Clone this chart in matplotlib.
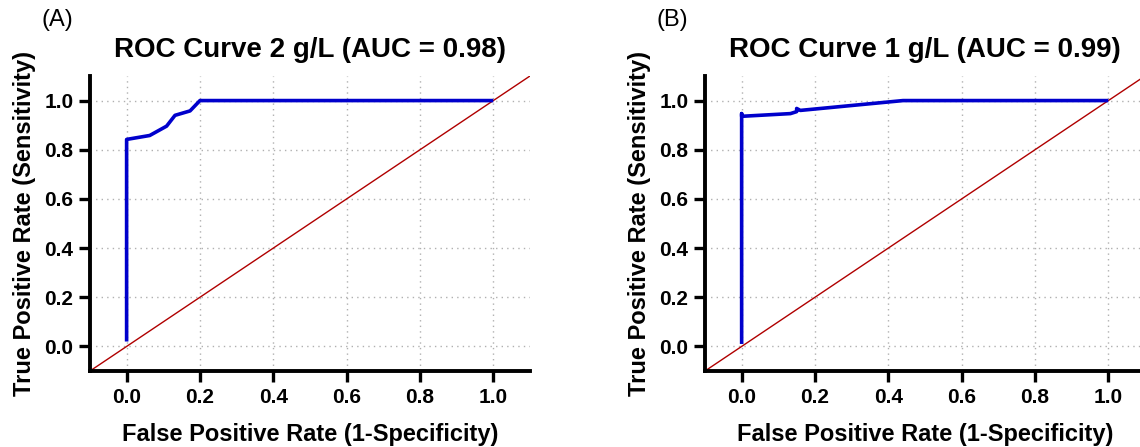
import matplotlib
matplotlib.use("Agg")
import matplotlib.pyplot as plt

plt.rcParams['font.family'] = ['Liberation Sans', 'DejaVu Sans']

# ROC points
fpr_2g = [0.0, 0.0, 0.063, 0.109, 0.132, 0.173, 0.20, 1.0]
tpr_2g = [0.02, 0.842, 0.858, 0.896, 0.940, 0.958, 1.0, 1.0]

fpr_1g = [0.0, 0.0, 0.0, 0.133, 0.15, 0.15, 0.16, 0.44, 1.0]
tpr_1g = [0.01, 0.947, 0.936, 0.947, 0.955, 0.968, 0.96, 1.0, 1.0]

diag = [-0.1, 1.1]
ticks = [0.0, 0.2, 0.4, 0.6, 0.8, 1.0]

titles = ["ROC Curve 2 g/L (AUC = 0.98)", "ROC Curve 1 g/L (AUC = 0.99)"]
panels = ["(A)", "(B)"]


def draw(ax, fpr, tpr, title, panel):
    ax.plot(diag, diag, color='#b00000', lw=1.0, zorder=2)
    ax.plot(fpr, tpr, color='#0000cc', lw=2.6, zorder=3, solid_capstyle='butt')
    ax.set_xlim(-0.1, 1.1)
    ax.set_ylim(-0.1, 1.1)
    ax.set_xticks(ticks)
    ax.set_yticks(ticks)
    ax.set_xticklabels([f"{t:.1f}" for t in ticks])
    ax.set_yticklabels([f"{t:.1f}" for t in ticks])
    ax.grid(True, linestyle=(0, (1, 3)), color='#b0b0b0', lw=1.0)
    for s in ['top', 'right']:
        ax.spines[s].set_visible(False)
    for s in ['left', 'bottom']:
        ax.spines[s].set_linewidth(2.8)
    ax.tick_params(width=2.4, length=8, labelsize=15, pad=4)
    for lab in ax.get_xticklabels() + ax.get_yticklabels():
        lab.set_fontweight('bold')
    ax.set_xlabel("False Positive Rate (1-Specificity)", fontsize=17,
                  fontweight='bold', labelpad=12)
    ax.set_ylabel("True Positive Rate (Sensitivity)", fontsize=17,
                  fontweight='bold', labelpad=6)
    ax.set_title(title, fontsize=20, fontweight='bold', pad=14)
    ax.text(-0.11, 1.19, panel, transform=ax.transAxes, fontsize=17,
            ha='left', va='center')


def main():
    fig = plt.figure(figsize=(11.4, 4.47), dpi=100)
    ax1 = fig.add_axes([0.0789, 0.170, 0.386, 0.660])
    ax2 = fig.add_axes([0.6184, 0.170, 0.386, 0.660])
    draw(ax1, fpr_2g, tpr_2g, titles[0], panels[0])
    draw(ax2, fpr_1g, tpr_1g, titles[1], panels[1])
    fig.savefig("out.png", dpi=100)


if __name__ == '__main__':
    main()
